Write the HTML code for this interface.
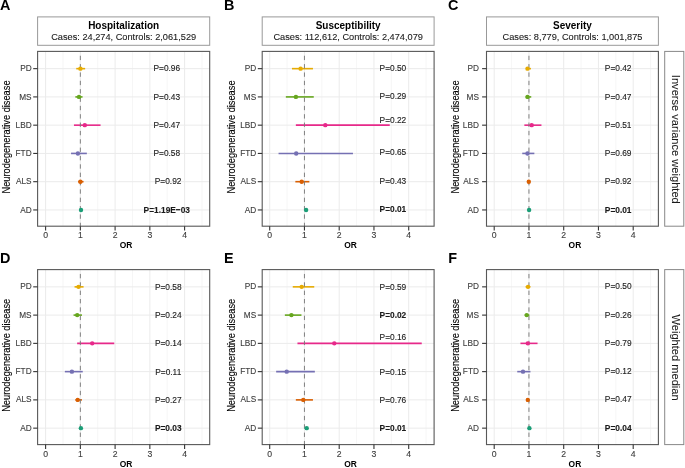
<!DOCTYPE html>
<html><head><meta charset="utf-8"><style>
html,body{margin:0;padding:0;background:#fff;}
svg{display:block;will-change:transform;font-family:"Liberation Sans", sans-serif;}
</style></head><body>
<svg width="685" height="468" viewBox="0 0 685 468">
<rect width="685" height="468" fill="#fff"/>
<line x1="45.60" y1="51.4" x2="45.60" y2="226.2" stroke="#ebebeb" stroke-width="1"/>
<line x1="62.98" y1="51.4" x2="62.98" y2="226.2" stroke="#f2f2f2" stroke-width="0.7"/>
<line x1="80.35" y1="51.4" x2="80.35" y2="226.2" stroke="#ebebeb" stroke-width="1"/>
<line x1="97.72" y1="51.4" x2="97.72" y2="226.2" stroke="#f2f2f2" stroke-width="0.7"/>
<line x1="115.10" y1="51.4" x2="115.10" y2="226.2" stroke="#ebebeb" stroke-width="1"/>
<line x1="132.47" y1="51.4" x2="132.47" y2="226.2" stroke="#f2f2f2" stroke-width="0.7"/>
<line x1="149.85" y1="51.4" x2="149.85" y2="226.2" stroke="#ebebeb" stroke-width="1"/>
<line x1="167.22" y1="51.4" x2="167.22" y2="226.2" stroke="#f2f2f2" stroke-width="0.7"/>
<line x1="184.60" y1="51.4" x2="184.60" y2="226.2" stroke="#ebebeb" stroke-width="1"/>
<line x1="201.97" y1="51.4" x2="201.97" y2="226.2" stroke="#f2f2f2" stroke-width="0.7"/>
<line x1="37.6" y1="68.65" x2="209.7" y2="68.65" stroke="#ebebeb" stroke-width="1"/>
<line x1="37.6" y1="96.91" x2="209.7" y2="96.91" stroke="#ebebeb" stroke-width="1"/>
<line x1="37.6" y1="125.17" x2="209.7" y2="125.17" stroke="#ebebeb" stroke-width="1"/>
<line x1="37.6" y1="153.43" x2="209.7" y2="153.43" stroke="#ebebeb" stroke-width="1"/>
<line x1="37.6" y1="181.69" x2="209.7" y2="181.69" stroke="#ebebeb" stroke-width="1"/>
<line x1="37.6" y1="209.95" x2="209.7" y2="209.95" stroke="#ebebeb" stroke-width="1"/>
<line x1="76.25" y1="68.65" x2="85.15" y2="68.65" stroke="#E6AB02" stroke-width="1.6"/>
<line x1="75.35" y1="96.91" x2="82.55" y2="96.91" stroke="#66A61E" stroke-width="1.6"/>
<line x1="73.95" y1="125.17" x2="100.55" y2="125.17" stroke="#E7298A" stroke-width="1.6"/>
<line x1="71.05" y1="153.43" x2="86.85" y2="153.43" stroke="#7570B3" stroke-width="1.6"/>
<line x1="78.15" y1="181.69" x2="83.55" y2="181.69" stroke="#D95F02" stroke-width="1.6"/>
<line x1="80.35" y1="51.4" x2="80.35" y2="226.2" stroke="#7a7a7a" stroke-width="0.95" stroke-dasharray="4.35 4.0" stroke-dashoffset="-4.35"/>
<circle cx="80.40" cy="68.65" r="2.2" fill="#E6AB02"/>
<circle cx="79.00" cy="96.91" r="2.2" fill="#66A61E"/>
<circle cx="84.80" cy="125.17" r="2.2" fill="#E7298A"/>
<circle cx="77.90" cy="153.43" r="2.2" fill="#7570B3"/>
<circle cx="80.40" cy="181.69" r="2.2" fill="#D95F02"/>
<circle cx="81.00" cy="209.95" r="2.2" fill="#1B9E77"/>
<text transform="translate(166.80,71.25) scale(0.87,1)" font-size="9.6" stroke="#1a1a1a" stroke-width="0.12" text-anchor="middle" fill="#1a1a1a">P=0.96</text>
<text transform="translate(166.80,99.51) scale(0.87,1)" font-size="9.6" stroke="#1a1a1a" stroke-width="0.12" text-anchor="middle" fill="#1a1a1a">P=0.43</text>
<text transform="translate(166.80,127.77) scale(0.87,1)" font-size="9.6" stroke="#1a1a1a" stroke-width="0.12" text-anchor="middle" fill="#1a1a1a">P=0.47</text>
<text transform="translate(166.80,156.03) scale(0.87,1)" font-size="9.6" stroke="#1a1a1a" stroke-width="0.12" text-anchor="middle" fill="#1a1a1a">P=0.58</text>
<text transform="translate(168.10,184.29) scale(0.87,1)" font-size="9.6" stroke="#1a1a1a" stroke-width="0.12" text-anchor="middle" fill="#1a1a1a">P=0.92</text>
<text transform="translate(166.80,212.55) scale(0.87,1)" font-size="9.6" font-weight="bold" stroke="#1a1a1a" stroke-width="0.12" text-anchor="middle" fill="#1a1a1a">P=1.19E−03</text>
<rect x="37.6" y="51.4" width="172.10" height="174.80" fill="none" stroke="#585858" stroke-width="1.1"/>
<line x1="33.20" y1="68.65" x2="37.6" y2="68.65" stroke="#333" stroke-width="1.1"/>
<text transform="translate(31.60,71.25) scale(0.95,1)" font-size="8.7" stroke="#3d3d3d" stroke-width="0.12" text-anchor="end" fill="#3d3d3d">PD</text>
<line x1="33.20" y1="96.91" x2="37.6" y2="96.91" stroke="#333" stroke-width="1.1"/>
<text transform="translate(31.60,99.51) scale(0.95,1)" font-size="8.7" stroke="#3d3d3d" stroke-width="0.12" text-anchor="end" fill="#3d3d3d">MS</text>
<line x1="33.20" y1="125.17" x2="37.6" y2="125.17" stroke="#333" stroke-width="1.1"/>
<text transform="translate(31.60,127.77) scale(0.95,1)" font-size="8.7" stroke="#3d3d3d" stroke-width="0.12" text-anchor="end" fill="#3d3d3d">LBD</text>
<line x1="33.20" y1="153.43" x2="37.6" y2="153.43" stroke="#333" stroke-width="1.1"/>
<text transform="translate(31.60,156.03) scale(0.95,1)" font-size="8.7" stroke="#3d3d3d" stroke-width="0.12" text-anchor="end" fill="#3d3d3d">FTD</text>
<line x1="33.20" y1="181.69" x2="37.6" y2="181.69" stroke="#333" stroke-width="1.1"/>
<text transform="translate(31.60,184.29) scale(0.95,1)" font-size="8.7" stroke="#3d3d3d" stroke-width="0.12" text-anchor="end" fill="#3d3d3d">ALS</text>
<line x1="33.20" y1="209.95" x2="37.6" y2="209.95" stroke="#333" stroke-width="1.1"/>
<text transform="translate(31.60,212.55) scale(0.95,1)" font-size="8.7" stroke="#3d3d3d" stroke-width="0.12" text-anchor="end" fill="#3d3d3d">AD</text>
<line x1="45.60" y1="226.2" x2="45.60" y2="230.60" stroke="#333" stroke-width="1.1"/>
<text transform="translate(45.60,238.10)" font-size="8.7" stroke="#3d3d3d" stroke-width="0.12" text-anchor="middle" fill="#3d3d3d">0</text>
<line x1="80.35" y1="226.2" x2="80.35" y2="230.60" stroke="#333" stroke-width="1.1"/>
<text transform="translate(80.35,238.10)" font-size="8.7" stroke="#3d3d3d" stroke-width="0.12" text-anchor="middle" fill="#3d3d3d">1</text>
<line x1="115.10" y1="226.2" x2="115.10" y2="230.60" stroke="#333" stroke-width="1.1"/>
<text transform="translate(115.10,238.10)" font-size="8.7" stroke="#3d3d3d" stroke-width="0.12" text-anchor="middle" fill="#3d3d3d">2</text>
<line x1="149.85" y1="226.2" x2="149.85" y2="230.60" stroke="#333" stroke-width="1.1"/>
<text transform="translate(149.85,238.10)" font-size="8.7" stroke="#3d3d3d" stroke-width="0.12" text-anchor="middle" fill="#3d3d3d">3</text>
<line x1="184.60" y1="226.2" x2="184.60" y2="230.60" stroke="#333" stroke-width="1.1"/>
<text transform="translate(184.60,238.10)" font-size="8.7" stroke="#3d3d3d" stroke-width="0.12" text-anchor="middle" fill="#3d3d3d">4</text>
<text transform="translate(126.10,248.10) scale(0.97,1)" font-size="8.7" font-weight="bold" text-anchor="middle" fill="#000">OR</text>
<text transform="translate(10.00,137.00) rotate(-90) scale(0.925,1)" font-size="10.0" stroke="#000" stroke-width="0.12" text-anchor="middle" fill="#000">Neurodegenerative disease</text>
<text transform="translate(0.00,10.35)" font-size="14.4" font-weight="bold" text-anchor="start" fill="#000">A</text>
<line x1="269.70" y1="51.4" x2="269.70" y2="226.2" stroke="#ebebeb" stroke-width="1"/>
<line x1="287.07" y1="51.4" x2="287.07" y2="226.2" stroke="#f2f2f2" stroke-width="0.7"/>
<line x1="304.45" y1="51.4" x2="304.45" y2="226.2" stroke="#ebebeb" stroke-width="1"/>
<line x1="321.82" y1="51.4" x2="321.82" y2="226.2" stroke="#f2f2f2" stroke-width="0.7"/>
<line x1="339.20" y1="51.4" x2="339.20" y2="226.2" stroke="#ebebeb" stroke-width="1"/>
<line x1="356.57" y1="51.4" x2="356.57" y2="226.2" stroke="#f2f2f2" stroke-width="0.7"/>
<line x1="373.95" y1="51.4" x2="373.95" y2="226.2" stroke="#ebebeb" stroke-width="1"/>
<line x1="391.32" y1="51.4" x2="391.32" y2="226.2" stroke="#f2f2f2" stroke-width="0.7"/>
<line x1="408.70" y1="51.4" x2="408.70" y2="226.2" stroke="#ebebeb" stroke-width="1"/>
<line x1="426.07" y1="51.4" x2="426.07" y2="226.2" stroke="#f2f2f2" stroke-width="0.7"/>
<line x1="262.2" y1="68.65" x2="434.1" y2="68.65" stroke="#ebebeb" stroke-width="1"/>
<line x1="262.2" y1="96.91" x2="434.1" y2="96.91" stroke="#ebebeb" stroke-width="1"/>
<line x1="262.2" y1="125.17" x2="434.1" y2="125.17" stroke="#ebebeb" stroke-width="1"/>
<line x1="262.2" y1="153.43" x2="434.1" y2="153.43" stroke="#ebebeb" stroke-width="1"/>
<line x1="262.2" y1="181.69" x2="434.1" y2="181.69" stroke="#ebebeb" stroke-width="1"/>
<line x1="262.2" y1="209.95" x2="434.1" y2="209.95" stroke="#ebebeb" stroke-width="1"/>
<line x1="291.95" y1="68.65" x2="312.95" y2="68.65" stroke="#E6AB02" stroke-width="1.6"/>
<line x1="285.85" y1="96.91" x2="313.75" y2="96.91" stroke="#66A61E" stroke-width="1.6"/>
<line x1="295.85" y1="125.17" x2="389.75" y2="125.17" stroke="#E7298A" stroke-width="1.6"/>
<line x1="278.55" y1="153.43" x2="352.95" y2="153.43" stroke="#7570B3" stroke-width="1.6"/>
<line x1="295.35" y1="181.69" x2="309.35" y2="181.69" stroke="#D95F02" stroke-width="1.6"/>
<line x1="304.45" y1="51.4" x2="304.45" y2="226.2" stroke="#7a7a7a" stroke-width="0.95" stroke-dasharray="4.35 4.0" stroke-dashoffset="-4.35"/>
<circle cx="300.60" cy="68.65" r="2.2" fill="#E6AB02"/>
<circle cx="295.90" cy="96.91" r="2.2" fill="#66A61E"/>
<circle cx="325.30" cy="125.17" r="2.2" fill="#E7298A"/>
<circle cx="296.20" cy="153.43" r="2.2" fill="#7570B3"/>
<circle cx="301.70" cy="181.69" r="2.2" fill="#D95F02"/>
<circle cx="306.10" cy="209.95" r="2.2" fill="#1B9E77"/>
<text transform="translate(392.90,70.55) scale(0.87,1)" font-size="9.6" stroke="#1a1a1a" stroke-width="0.12" text-anchor="middle" fill="#1a1a1a">P=0.50</text>
<text transform="translate(392.90,98.81) scale(0.87,1)" font-size="9.6" stroke="#1a1a1a" stroke-width="0.12" text-anchor="middle" fill="#1a1a1a">P=0.29</text>
<text transform="translate(392.90,123.12) scale(0.87,1)" font-size="9.6" stroke="#1a1a1a" stroke-width="0.12" text-anchor="middle" fill="#1a1a1a">P=0.22</text>
<text transform="translate(392.90,155.33) scale(0.87,1)" font-size="9.6" stroke="#1a1a1a" stroke-width="0.12" text-anchor="middle" fill="#1a1a1a">P=0.65</text>
<text transform="translate(392.90,183.59) scale(0.87,1)" font-size="9.6" stroke="#1a1a1a" stroke-width="0.12" text-anchor="middle" fill="#1a1a1a">P=0.43</text>
<text transform="translate(392.90,211.85) scale(0.87,1)" font-size="9.6" font-weight="bold" stroke="#1a1a1a" stroke-width="0.12" text-anchor="middle" fill="#1a1a1a">P=0.01</text>
<rect x="262.2" y="51.4" width="171.90" height="174.80" fill="none" stroke="#585858" stroke-width="1.1"/>
<line x1="257.80" y1="68.65" x2="262.2" y2="68.65" stroke="#333" stroke-width="1.1"/>
<text transform="translate(256.20,71.25) scale(0.95,1)" font-size="8.7" stroke="#3d3d3d" stroke-width="0.12" text-anchor="end" fill="#3d3d3d">PD</text>
<line x1="257.80" y1="96.91" x2="262.2" y2="96.91" stroke="#333" stroke-width="1.1"/>
<text transform="translate(256.20,99.51) scale(0.95,1)" font-size="8.7" stroke="#3d3d3d" stroke-width="0.12" text-anchor="end" fill="#3d3d3d">MS</text>
<line x1="257.80" y1="125.17" x2="262.2" y2="125.17" stroke="#333" stroke-width="1.1"/>
<text transform="translate(256.20,127.77) scale(0.95,1)" font-size="8.7" stroke="#3d3d3d" stroke-width="0.12" text-anchor="end" fill="#3d3d3d">LBD</text>
<line x1="257.80" y1="153.43" x2="262.2" y2="153.43" stroke="#333" stroke-width="1.1"/>
<text transform="translate(256.20,156.03) scale(0.95,1)" font-size="8.7" stroke="#3d3d3d" stroke-width="0.12" text-anchor="end" fill="#3d3d3d">FTD</text>
<line x1="257.80" y1="181.69" x2="262.2" y2="181.69" stroke="#333" stroke-width="1.1"/>
<text transform="translate(256.20,184.29) scale(0.95,1)" font-size="8.7" stroke="#3d3d3d" stroke-width="0.12" text-anchor="end" fill="#3d3d3d">ALS</text>
<line x1="257.80" y1="209.95" x2="262.2" y2="209.95" stroke="#333" stroke-width="1.1"/>
<text transform="translate(256.20,212.55) scale(0.95,1)" font-size="8.7" stroke="#3d3d3d" stroke-width="0.12" text-anchor="end" fill="#3d3d3d">AD</text>
<line x1="269.70" y1="226.2" x2="269.70" y2="230.60" stroke="#333" stroke-width="1.1"/>
<text transform="translate(269.70,238.10)" font-size="8.7" stroke="#3d3d3d" stroke-width="0.12" text-anchor="middle" fill="#3d3d3d">0</text>
<line x1="304.45" y1="226.2" x2="304.45" y2="230.60" stroke="#333" stroke-width="1.1"/>
<text transform="translate(304.45,238.10)" font-size="8.7" stroke="#3d3d3d" stroke-width="0.12" text-anchor="middle" fill="#3d3d3d">1</text>
<line x1="339.20" y1="226.2" x2="339.20" y2="230.60" stroke="#333" stroke-width="1.1"/>
<text transform="translate(339.20,238.10)" font-size="8.7" stroke="#3d3d3d" stroke-width="0.12" text-anchor="middle" fill="#3d3d3d">2</text>
<line x1="373.95" y1="226.2" x2="373.95" y2="230.60" stroke="#333" stroke-width="1.1"/>
<text transform="translate(373.95,238.10)" font-size="8.7" stroke="#3d3d3d" stroke-width="0.12" text-anchor="middle" fill="#3d3d3d">3</text>
<line x1="408.70" y1="226.2" x2="408.70" y2="230.60" stroke="#333" stroke-width="1.1"/>
<text transform="translate(408.70,238.10)" font-size="8.7" stroke="#3d3d3d" stroke-width="0.12" text-anchor="middle" fill="#3d3d3d">4</text>
<text transform="translate(350.60,248.10) scale(0.97,1)" font-size="8.7" font-weight="bold" text-anchor="middle" fill="#000">OR</text>
<text transform="translate(234.60,137.00) rotate(-90) scale(0.925,1)" font-size="10.0" stroke="#000" stroke-width="0.12" text-anchor="middle" fill="#000">Neurodegenerative disease</text>
<text transform="translate(224.00,10.35)" font-size="14.4" font-weight="bold" text-anchor="start" fill="#000">B</text>
<line x1="494.20" y1="51.4" x2="494.20" y2="226.2" stroke="#ebebeb" stroke-width="1"/>
<line x1="511.57" y1="51.4" x2="511.57" y2="226.2" stroke="#f2f2f2" stroke-width="0.7"/>
<line x1="528.95" y1="51.4" x2="528.95" y2="226.2" stroke="#ebebeb" stroke-width="1"/>
<line x1="546.33" y1="51.4" x2="546.33" y2="226.2" stroke="#f2f2f2" stroke-width="0.7"/>
<line x1="563.70" y1="51.4" x2="563.70" y2="226.2" stroke="#ebebeb" stroke-width="1"/>
<line x1="581.08" y1="51.4" x2="581.08" y2="226.2" stroke="#f2f2f2" stroke-width="0.7"/>
<line x1="598.45" y1="51.4" x2="598.45" y2="226.2" stroke="#ebebeb" stroke-width="1"/>
<line x1="615.83" y1="51.4" x2="615.83" y2="226.2" stroke="#f2f2f2" stroke-width="0.7"/>
<line x1="633.20" y1="51.4" x2="633.20" y2="226.2" stroke="#ebebeb" stroke-width="1"/>
<line x1="650.58" y1="51.4" x2="650.58" y2="226.2" stroke="#f2f2f2" stroke-width="0.7"/>
<line x1="486.5" y1="68.65" x2="658.4" y2="68.65" stroke="#ebebeb" stroke-width="1"/>
<line x1="486.5" y1="96.91" x2="658.4" y2="96.91" stroke="#ebebeb" stroke-width="1"/>
<line x1="486.5" y1="125.17" x2="658.4" y2="125.17" stroke="#ebebeb" stroke-width="1"/>
<line x1="486.5" y1="153.43" x2="658.4" y2="153.43" stroke="#ebebeb" stroke-width="1"/>
<line x1="486.5" y1="181.69" x2="658.4" y2="181.69" stroke="#ebebeb" stroke-width="1"/>
<line x1="486.5" y1="209.95" x2="658.4" y2="209.95" stroke="#ebebeb" stroke-width="1"/>
<line x1="526.15" y1="68.65" x2="530.95" y2="68.65" stroke="#E6AB02" stroke-width="1.6"/>
<line x1="525.65" y1="96.91" x2="531.25" y2="96.91" stroke="#66A61E" stroke-width="1.6"/>
<line x1="524.35" y1="125.17" x2="541.45" y2="125.17" stroke="#E7298A" stroke-width="1.6"/>
<line x1="522.25" y1="153.43" x2="534.35" y2="153.43" stroke="#7570B3" stroke-width="1.6"/>
<line x1="528.95" y1="51.4" x2="528.95" y2="226.2" stroke="#7a7a7a" stroke-width="0.95" stroke-dasharray="4.35 4.0" stroke-dashoffset="-4.35"/>
<circle cx="527.50" cy="68.65" r="2.2" fill="#E6AB02"/>
<circle cx="527.50" cy="96.91" r="2.2" fill="#66A61E"/>
<circle cx="531.70" cy="125.17" r="2.2" fill="#E7298A"/>
<circle cx="527.50" cy="153.43" r="2.2" fill="#7570B3"/>
<circle cx="528.80" cy="181.69" r="2.2" fill="#D95F02"/>
<circle cx="529.10" cy="209.95" r="2.2" fill="#1B9E77"/>
<text transform="translate(618.15,71.25) scale(0.87,1)" font-size="9.6" stroke="#1a1a1a" stroke-width="0.12" text-anchor="middle" fill="#1a1a1a">P=0.42</text>
<text transform="translate(618.15,99.51) scale(0.87,1)" font-size="9.6" stroke="#1a1a1a" stroke-width="0.12" text-anchor="middle" fill="#1a1a1a">P=0.47</text>
<text transform="translate(618.15,127.77) scale(0.87,1)" font-size="9.6" stroke="#1a1a1a" stroke-width="0.12" text-anchor="middle" fill="#1a1a1a">P=0.51</text>
<text transform="translate(618.15,156.03) scale(0.87,1)" font-size="9.6" stroke="#1a1a1a" stroke-width="0.12" text-anchor="middle" fill="#1a1a1a">P=0.69</text>
<text transform="translate(618.15,184.29) scale(0.87,1)" font-size="9.6" stroke="#1a1a1a" stroke-width="0.12" text-anchor="middle" fill="#1a1a1a">P=0.92</text>
<text transform="translate(618.15,212.55) scale(0.87,1)" font-size="9.6" font-weight="bold" stroke="#1a1a1a" stroke-width="0.12" text-anchor="middle" fill="#1a1a1a">P=0.01</text>
<rect x="486.5" y="51.4" width="171.90" height="174.80" fill="none" stroke="#585858" stroke-width="1.1"/>
<line x1="482.10" y1="68.65" x2="486.5" y2="68.65" stroke="#333" stroke-width="1.1"/>
<text transform="translate(478.90,71.25) scale(0.95,1)" font-size="8.7" stroke="#3d3d3d" stroke-width="0.12" text-anchor="end" fill="#3d3d3d">PD</text>
<line x1="482.10" y1="96.91" x2="486.5" y2="96.91" stroke="#333" stroke-width="1.1"/>
<text transform="translate(478.90,99.51) scale(0.95,1)" font-size="8.7" stroke="#3d3d3d" stroke-width="0.12" text-anchor="end" fill="#3d3d3d">MS</text>
<line x1="482.10" y1="125.17" x2="486.5" y2="125.17" stroke="#333" stroke-width="1.1"/>
<text transform="translate(478.90,127.77) scale(0.95,1)" font-size="8.7" stroke="#3d3d3d" stroke-width="0.12" text-anchor="end" fill="#3d3d3d">LBD</text>
<line x1="482.10" y1="153.43" x2="486.5" y2="153.43" stroke="#333" stroke-width="1.1"/>
<text transform="translate(478.90,156.03) scale(0.95,1)" font-size="8.7" stroke="#3d3d3d" stroke-width="0.12" text-anchor="end" fill="#3d3d3d">FTD</text>
<line x1="482.10" y1="181.69" x2="486.5" y2="181.69" stroke="#333" stroke-width="1.1"/>
<text transform="translate(478.90,184.29) scale(0.95,1)" font-size="8.7" stroke="#3d3d3d" stroke-width="0.12" text-anchor="end" fill="#3d3d3d">ALS</text>
<line x1="482.10" y1="209.95" x2="486.5" y2="209.95" stroke="#333" stroke-width="1.1"/>
<text transform="translate(478.90,212.55) scale(0.95,1)" font-size="8.7" stroke="#3d3d3d" stroke-width="0.12" text-anchor="end" fill="#3d3d3d">AD</text>
<line x1="494.20" y1="226.2" x2="494.20" y2="230.60" stroke="#333" stroke-width="1.1"/>
<text transform="translate(494.20,238.10)" font-size="8.7" stroke="#3d3d3d" stroke-width="0.12" text-anchor="middle" fill="#3d3d3d">0</text>
<line x1="528.95" y1="226.2" x2="528.95" y2="230.60" stroke="#333" stroke-width="1.1"/>
<text transform="translate(528.95,238.10)" font-size="8.7" stroke="#3d3d3d" stroke-width="0.12" text-anchor="middle" fill="#3d3d3d">1</text>
<line x1="563.70" y1="226.2" x2="563.70" y2="230.60" stroke="#333" stroke-width="1.1"/>
<text transform="translate(563.70,238.10)" font-size="8.7" stroke="#3d3d3d" stroke-width="0.12" text-anchor="middle" fill="#3d3d3d">2</text>
<line x1="598.45" y1="226.2" x2="598.45" y2="230.60" stroke="#333" stroke-width="1.1"/>
<text transform="translate(598.45,238.10)" font-size="8.7" stroke="#3d3d3d" stroke-width="0.12" text-anchor="middle" fill="#3d3d3d">3</text>
<line x1="633.20" y1="226.2" x2="633.20" y2="230.60" stroke="#333" stroke-width="1.1"/>
<text transform="translate(633.20,238.10)" font-size="8.7" stroke="#3d3d3d" stroke-width="0.12" text-anchor="middle" fill="#3d3d3d">4</text>
<text transform="translate(574.90,248.10) scale(0.97,1)" font-size="8.7" font-weight="bold" text-anchor="middle" fill="#000">OR</text>
<text transform="translate(458.90,137.00) rotate(-90) scale(0.925,1)" font-size="10.0" stroke="#000" stroke-width="0.12" text-anchor="middle" fill="#000">Neurodegenerative disease</text>
<text transform="translate(448.00,10.35)" font-size="14.4" font-weight="bold" text-anchor="start" fill="#000">C</text>
<rect x="664.7" y="51.4" width="19.10" height="174.80" fill="#fff" stroke="#888" stroke-width="1"/>
<text transform="translate(671.90,139.30) rotate(90)" font-size="11.1" stroke="#1a1a1a" stroke-width="0.08" text-anchor="middle" fill="#1a1a1a">Inverse variance weighted</text>
<line x1="45.60" y1="269.6" x2="45.60" y2="444.6" stroke="#ebebeb" stroke-width="1"/>
<line x1="62.98" y1="269.6" x2="62.98" y2="444.6" stroke="#f2f2f2" stroke-width="0.7"/>
<line x1="80.35" y1="269.6" x2="80.35" y2="444.6" stroke="#ebebeb" stroke-width="1"/>
<line x1="97.72" y1="269.6" x2="97.72" y2="444.6" stroke="#f2f2f2" stroke-width="0.7"/>
<line x1="115.10" y1="269.6" x2="115.10" y2="444.6" stroke="#ebebeb" stroke-width="1"/>
<line x1="132.47" y1="269.6" x2="132.47" y2="444.6" stroke="#f2f2f2" stroke-width="0.7"/>
<line x1="149.85" y1="269.6" x2="149.85" y2="444.6" stroke="#ebebeb" stroke-width="1"/>
<line x1="167.22" y1="269.6" x2="167.22" y2="444.6" stroke="#f2f2f2" stroke-width="0.7"/>
<line x1="184.60" y1="269.6" x2="184.60" y2="444.6" stroke="#ebebeb" stroke-width="1"/>
<line x1="201.97" y1="269.6" x2="201.97" y2="444.6" stroke="#f2f2f2" stroke-width="0.7"/>
<line x1="37.6" y1="286.85" x2="209.7" y2="286.85" stroke="#ebebeb" stroke-width="1"/>
<line x1="37.6" y1="315.11" x2="209.7" y2="315.11" stroke="#ebebeb" stroke-width="1"/>
<line x1="37.6" y1="343.37" x2="209.7" y2="343.37" stroke="#ebebeb" stroke-width="1"/>
<line x1="37.6" y1="371.63" x2="209.7" y2="371.63" stroke="#ebebeb" stroke-width="1"/>
<line x1="37.6" y1="399.89" x2="209.7" y2="399.89" stroke="#ebebeb" stroke-width="1"/>
<line x1="37.6" y1="428.15" x2="209.7" y2="428.15" stroke="#ebebeb" stroke-width="1"/>
<line x1="74.55" y1="286.85" x2="83.55" y2="286.85" stroke="#E6AB02" stroke-width="1.6"/>
<line x1="73.55" y1="315.11" x2="81.95" y2="315.11" stroke="#66A61E" stroke-width="1.6"/>
<line x1="77.15" y1="343.37" x2="114.25" y2="343.37" stroke="#E7298A" stroke-width="1.6"/>
<line x1="64.85" y1="371.63" x2="82.75" y2="371.63" stroke="#7570B3" stroke-width="1.6"/>
<line x1="75.35" y1="399.89" x2="81.95" y2="399.89" stroke="#D95F02" stroke-width="1.6"/>
<line x1="80.35" y1="269.6" x2="80.35" y2="444.6" stroke="#7a7a7a" stroke-width="0.95" stroke-dasharray="4.35 4.0" stroke-dashoffset="-4.35"/>
<circle cx="78.50" cy="286.85" r="2.2" fill="#E6AB02"/>
<circle cx="77.20" cy="315.11" r="2.2" fill="#66A61E"/>
<circle cx="92.20" cy="343.37" r="2.2" fill="#E7298A"/>
<circle cx="71.90" cy="371.63" r="2.2" fill="#7570B3"/>
<circle cx="77.70" cy="399.89" r="2.2" fill="#D95F02"/>
<circle cx="80.90" cy="428.15" r="2.2" fill="#1B9E77"/>
<text transform="translate(168.25,289.75) scale(0.87,1)" font-size="9.6" stroke="#1a1a1a" stroke-width="0.12" text-anchor="middle" fill="#1a1a1a">P=0.58</text>
<text transform="translate(168.25,318.01) scale(0.87,1)" font-size="9.6" stroke="#1a1a1a" stroke-width="0.12" text-anchor="middle" fill="#1a1a1a">P=0.24</text>
<text transform="translate(168.25,346.27) scale(0.87,1)" font-size="9.6" stroke="#1a1a1a" stroke-width="0.12" text-anchor="middle" fill="#1a1a1a">P=0.14</text>
<text transform="translate(168.25,374.53) scale(0.87,1)" font-size="9.6" stroke="#1a1a1a" stroke-width="0.12" text-anchor="middle" fill="#1a1a1a">P=0.11</text>
<text transform="translate(168.25,402.79) scale(0.87,1)" font-size="9.6" stroke="#1a1a1a" stroke-width="0.12" text-anchor="middle" fill="#1a1a1a">P=0.27</text>
<text transform="translate(168.25,431.05) scale(0.87,1)" font-size="9.6" font-weight="bold" stroke="#1a1a1a" stroke-width="0.12" text-anchor="middle" fill="#1a1a1a">P=0.03</text>
<rect x="37.6" y="269.6" width="172.10" height="175.00" fill="none" stroke="#585858" stroke-width="1.1"/>
<line x1="33.20" y1="286.85" x2="37.6" y2="286.85" stroke="#333" stroke-width="1.1"/>
<text transform="translate(31.60,289.45) scale(0.95,1)" font-size="8.7" stroke="#3d3d3d" stroke-width="0.12" text-anchor="end" fill="#3d3d3d">PD</text>
<line x1="33.20" y1="315.11" x2="37.6" y2="315.11" stroke="#333" stroke-width="1.1"/>
<text transform="translate(31.60,317.71) scale(0.95,1)" font-size="8.7" stroke="#3d3d3d" stroke-width="0.12" text-anchor="end" fill="#3d3d3d">MS</text>
<line x1="33.20" y1="343.37" x2="37.6" y2="343.37" stroke="#333" stroke-width="1.1"/>
<text transform="translate(31.60,345.97) scale(0.95,1)" font-size="8.7" stroke="#3d3d3d" stroke-width="0.12" text-anchor="end" fill="#3d3d3d">LBD</text>
<line x1="33.20" y1="371.63" x2="37.6" y2="371.63" stroke="#333" stroke-width="1.1"/>
<text transform="translate(31.60,374.23) scale(0.95,1)" font-size="8.7" stroke="#3d3d3d" stroke-width="0.12" text-anchor="end" fill="#3d3d3d">FTD</text>
<line x1="33.20" y1="399.89" x2="37.6" y2="399.89" stroke="#333" stroke-width="1.1"/>
<text transform="translate(31.60,402.49) scale(0.95,1)" font-size="8.7" stroke="#3d3d3d" stroke-width="0.12" text-anchor="end" fill="#3d3d3d">ALS</text>
<line x1="33.20" y1="428.15" x2="37.6" y2="428.15" stroke="#333" stroke-width="1.1"/>
<text transform="translate(31.60,430.75) scale(0.95,1)" font-size="8.7" stroke="#3d3d3d" stroke-width="0.12" text-anchor="end" fill="#3d3d3d">AD</text>
<line x1="45.60" y1="444.6" x2="45.60" y2="449.00" stroke="#333" stroke-width="1.1"/>
<text transform="translate(45.60,456.50)" font-size="8.7" stroke="#3d3d3d" stroke-width="0.12" text-anchor="middle" fill="#3d3d3d">0</text>
<line x1="80.35" y1="444.6" x2="80.35" y2="449.00" stroke="#333" stroke-width="1.1"/>
<text transform="translate(80.35,456.50)" font-size="8.7" stroke="#3d3d3d" stroke-width="0.12" text-anchor="middle" fill="#3d3d3d">1</text>
<line x1="115.10" y1="444.6" x2="115.10" y2="449.00" stroke="#333" stroke-width="1.1"/>
<text transform="translate(115.10,456.50)" font-size="8.7" stroke="#3d3d3d" stroke-width="0.12" text-anchor="middle" fill="#3d3d3d">2</text>
<line x1="149.85" y1="444.6" x2="149.85" y2="449.00" stroke="#333" stroke-width="1.1"/>
<text transform="translate(149.85,456.50)" font-size="8.7" stroke="#3d3d3d" stroke-width="0.12" text-anchor="middle" fill="#3d3d3d">3</text>
<line x1="184.60" y1="444.6" x2="184.60" y2="449.00" stroke="#333" stroke-width="1.1"/>
<text transform="translate(184.60,456.50)" font-size="8.7" stroke="#3d3d3d" stroke-width="0.12" text-anchor="middle" fill="#3d3d3d">4</text>
<text transform="translate(126.10,466.50) scale(0.97,1)" font-size="8.7" font-weight="bold" text-anchor="middle" fill="#000">OR</text>
<text transform="translate(10.00,355.30) rotate(-90) scale(0.925,1)" font-size="10.0" stroke="#000" stroke-width="0.12" text-anchor="middle" fill="#000">Neurodegenerative disease</text>
<text transform="translate(0.00,263.00)" font-size="14.4" font-weight="bold" text-anchor="start" fill="#000">D</text>
<line x1="269.70" y1="269.6" x2="269.70" y2="444.6" stroke="#ebebeb" stroke-width="1"/>
<line x1="287.07" y1="269.6" x2="287.07" y2="444.6" stroke="#f2f2f2" stroke-width="0.7"/>
<line x1="304.45" y1="269.6" x2="304.45" y2="444.6" stroke="#ebebeb" stroke-width="1"/>
<line x1="321.82" y1="269.6" x2="321.82" y2="444.6" stroke="#f2f2f2" stroke-width="0.7"/>
<line x1="339.20" y1="269.6" x2="339.20" y2="444.6" stroke="#ebebeb" stroke-width="1"/>
<line x1="356.57" y1="269.6" x2="356.57" y2="444.6" stroke="#f2f2f2" stroke-width="0.7"/>
<line x1="373.95" y1="269.6" x2="373.95" y2="444.6" stroke="#ebebeb" stroke-width="1"/>
<line x1="391.32" y1="269.6" x2="391.32" y2="444.6" stroke="#f2f2f2" stroke-width="0.7"/>
<line x1="408.70" y1="269.6" x2="408.70" y2="444.6" stroke="#ebebeb" stroke-width="1"/>
<line x1="426.07" y1="269.6" x2="426.07" y2="444.6" stroke="#f2f2f2" stroke-width="0.7"/>
<line x1="262.2" y1="286.85" x2="434.1" y2="286.85" stroke="#ebebeb" stroke-width="1"/>
<line x1="262.2" y1="315.11" x2="434.1" y2="315.11" stroke="#ebebeb" stroke-width="1"/>
<line x1="262.2" y1="343.37" x2="434.1" y2="343.37" stroke="#ebebeb" stroke-width="1"/>
<line x1="262.2" y1="371.63" x2="434.1" y2="371.63" stroke="#ebebeb" stroke-width="1"/>
<line x1="262.2" y1="399.89" x2="434.1" y2="399.89" stroke="#ebebeb" stroke-width="1"/>
<line x1="262.2" y1="428.15" x2="434.1" y2="428.15" stroke="#ebebeb" stroke-width="1"/>
<line x1="292.75" y1="286.85" x2="314.25" y2="286.85" stroke="#E6AB02" stroke-width="1.6"/>
<line x1="284.85" y1="315.11" x2="301.45" y2="315.11" stroke="#66A61E" stroke-width="1.6"/>
<line x1="297.45" y1="343.37" x2="421.75" y2="343.37" stroke="#E7298A" stroke-width="1.6"/>
<line x1="276.15" y1="371.63" x2="314.85" y2="371.63" stroke="#7570B3" stroke-width="1.6"/>
<line x1="295.85" y1="399.89" x2="312.95" y2="399.89" stroke="#D95F02" stroke-width="1.6"/>
<line x1="304.45" y1="269.6" x2="304.45" y2="444.6" stroke="#7a7a7a" stroke-width="0.95" stroke-dasharray="4.35 4.0" stroke-dashoffset="-4.35"/>
<circle cx="301.70" cy="286.85" r="2.2" fill="#E6AB02"/>
<circle cx="291.40" cy="315.11" r="2.2" fill="#66A61E"/>
<circle cx="334.30" cy="343.37" r="2.2" fill="#E7298A"/>
<circle cx="286.70" cy="371.63" r="2.2" fill="#7570B3"/>
<circle cx="303.30" cy="399.89" r="2.2" fill="#D95F02"/>
<circle cx="306.70" cy="428.15" r="2.2" fill="#1B9E77"/>
<text transform="translate(392.90,290.15) scale(0.87,1)" font-size="9.6" stroke="#1a1a1a" stroke-width="0.12" text-anchor="middle" fill="#1a1a1a">P=0.59</text>
<text transform="translate(392.90,318.41) scale(0.87,1)" font-size="9.6" font-weight="bold" stroke="#1a1a1a" stroke-width="0.12" text-anchor="middle" fill="#1a1a1a">P=0.02</text>
<text transform="translate(392.90,339.87) scale(0.87,1)" font-size="9.6" stroke="#1a1a1a" stroke-width="0.12" text-anchor="middle" fill="#1a1a1a">P=0.16</text>
<text transform="translate(392.90,374.93) scale(0.87,1)" font-size="9.6" stroke="#1a1a1a" stroke-width="0.12" text-anchor="middle" fill="#1a1a1a">P=0.15</text>
<text transform="translate(392.90,403.19) scale(0.87,1)" font-size="9.6" stroke="#1a1a1a" stroke-width="0.12" text-anchor="middle" fill="#1a1a1a">P=0.76</text>
<text transform="translate(392.90,431.45) scale(0.87,1)" font-size="9.6" font-weight="bold" stroke="#1a1a1a" stroke-width="0.12" text-anchor="middle" fill="#1a1a1a">P=0.01</text>
<rect x="262.2" y="269.6" width="171.90" height="175.00" fill="none" stroke="#585858" stroke-width="1.1"/>
<line x1="257.80" y1="286.85" x2="262.2" y2="286.85" stroke="#333" stroke-width="1.1"/>
<text transform="translate(256.20,289.45) scale(0.95,1)" font-size="8.7" stroke="#3d3d3d" stroke-width="0.12" text-anchor="end" fill="#3d3d3d">PD</text>
<line x1="257.80" y1="315.11" x2="262.2" y2="315.11" stroke="#333" stroke-width="1.1"/>
<text transform="translate(256.20,317.71) scale(0.95,1)" font-size="8.7" stroke="#3d3d3d" stroke-width="0.12" text-anchor="end" fill="#3d3d3d">MS</text>
<line x1="257.80" y1="343.37" x2="262.2" y2="343.37" stroke="#333" stroke-width="1.1"/>
<text transform="translate(256.20,345.97) scale(0.95,1)" font-size="8.7" stroke="#3d3d3d" stroke-width="0.12" text-anchor="end" fill="#3d3d3d">LBD</text>
<line x1="257.80" y1="371.63" x2="262.2" y2="371.63" stroke="#333" stroke-width="1.1"/>
<text transform="translate(256.20,374.23) scale(0.95,1)" font-size="8.7" stroke="#3d3d3d" stroke-width="0.12" text-anchor="end" fill="#3d3d3d">FTD</text>
<line x1="257.80" y1="399.89" x2="262.2" y2="399.89" stroke="#333" stroke-width="1.1"/>
<text transform="translate(256.20,402.49) scale(0.95,1)" font-size="8.7" stroke="#3d3d3d" stroke-width="0.12" text-anchor="end" fill="#3d3d3d">ALS</text>
<line x1="257.80" y1="428.15" x2="262.2" y2="428.15" stroke="#333" stroke-width="1.1"/>
<text transform="translate(256.20,430.75) scale(0.95,1)" font-size="8.7" stroke="#3d3d3d" stroke-width="0.12" text-anchor="end" fill="#3d3d3d">AD</text>
<line x1="269.70" y1="444.6" x2="269.70" y2="449.00" stroke="#333" stroke-width="1.1"/>
<text transform="translate(269.70,456.50)" font-size="8.7" stroke="#3d3d3d" stroke-width="0.12" text-anchor="middle" fill="#3d3d3d">0</text>
<line x1="304.45" y1="444.6" x2="304.45" y2="449.00" stroke="#333" stroke-width="1.1"/>
<text transform="translate(304.45,456.50)" font-size="8.7" stroke="#3d3d3d" stroke-width="0.12" text-anchor="middle" fill="#3d3d3d">1</text>
<line x1="339.20" y1="444.6" x2="339.20" y2="449.00" stroke="#333" stroke-width="1.1"/>
<text transform="translate(339.20,456.50)" font-size="8.7" stroke="#3d3d3d" stroke-width="0.12" text-anchor="middle" fill="#3d3d3d">2</text>
<line x1="373.95" y1="444.6" x2="373.95" y2="449.00" stroke="#333" stroke-width="1.1"/>
<text transform="translate(373.95,456.50)" font-size="8.7" stroke="#3d3d3d" stroke-width="0.12" text-anchor="middle" fill="#3d3d3d">3</text>
<line x1="408.70" y1="444.6" x2="408.70" y2="449.00" stroke="#333" stroke-width="1.1"/>
<text transform="translate(408.70,456.50)" font-size="8.7" stroke="#3d3d3d" stroke-width="0.12" text-anchor="middle" fill="#3d3d3d">4</text>
<text transform="translate(350.60,466.50) scale(0.97,1)" font-size="8.7" font-weight="bold" text-anchor="middle" fill="#000">OR</text>
<text transform="translate(234.60,355.30) rotate(-90) scale(0.925,1)" font-size="10.0" stroke="#000" stroke-width="0.12" text-anchor="middle" fill="#000">Neurodegenerative disease</text>
<text transform="translate(224.00,263.00)" font-size="14.4" font-weight="bold" text-anchor="start" fill="#000">E</text>
<line x1="494.20" y1="269.6" x2="494.20" y2="444.6" stroke="#ebebeb" stroke-width="1"/>
<line x1="511.57" y1="269.6" x2="511.57" y2="444.6" stroke="#f2f2f2" stroke-width="0.7"/>
<line x1="528.95" y1="269.6" x2="528.95" y2="444.6" stroke="#ebebeb" stroke-width="1"/>
<line x1="546.33" y1="269.6" x2="546.33" y2="444.6" stroke="#f2f2f2" stroke-width="0.7"/>
<line x1="563.70" y1="269.6" x2="563.70" y2="444.6" stroke="#ebebeb" stroke-width="1"/>
<line x1="581.08" y1="269.6" x2="581.08" y2="444.6" stroke="#f2f2f2" stroke-width="0.7"/>
<line x1="598.45" y1="269.6" x2="598.45" y2="444.6" stroke="#ebebeb" stroke-width="1"/>
<line x1="615.83" y1="269.6" x2="615.83" y2="444.6" stroke="#f2f2f2" stroke-width="0.7"/>
<line x1="633.20" y1="269.6" x2="633.20" y2="444.6" stroke="#ebebeb" stroke-width="1"/>
<line x1="650.58" y1="269.6" x2="650.58" y2="444.6" stroke="#f2f2f2" stroke-width="0.7"/>
<line x1="486.5" y1="286.85" x2="658.4" y2="286.85" stroke="#ebebeb" stroke-width="1"/>
<line x1="486.5" y1="315.11" x2="658.4" y2="315.11" stroke="#ebebeb" stroke-width="1"/>
<line x1="486.5" y1="343.37" x2="658.4" y2="343.37" stroke="#ebebeb" stroke-width="1"/>
<line x1="486.5" y1="371.63" x2="658.4" y2="371.63" stroke="#ebebeb" stroke-width="1"/>
<line x1="486.5" y1="399.89" x2="658.4" y2="399.89" stroke="#ebebeb" stroke-width="1"/>
<line x1="486.5" y1="428.15" x2="658.4" y2="428.15" stroke="#ebebeb" stroke-width="1"/>
<line x1="525.65" y1="286.85" x2="530.45" y2="286.85" stroke="#E6AB02" stroke-width="1.6"/>
<line x1="524.65" y1="315.11" x2="529.35" y2="315.11" stroke="#66A61E" stroke-width="1.6"/>
<line x1="520.45" y1="343.37" x2="537.55" y2="343.37" stroke="#E7298A" stroke-width="1.6"/>
<line x1="517.25" y1="371.63" x2="530.45" y2="371.63" stroke="#7570B3" stroke-width="1.6"/>
<line x1="528.95" y1="269.6" x2="528.95" y2="444.6" stroke="#7a7a7a" stroke-width="0.95" stroke-dasharray="4.35 4.0" stroke-dashoffset="-4.35"/>
<circle cx="528.00" cy="286.85" r="2.2" fill="#E6AB02"/>
<circle cx="526.70" cy="315.11" r="2.2" fill="#66A61E"/>
<circle cx="527.80" cy="343.37" r="2.2" fill="#E7298A"/>
<circle cx="523.00" cy="371.63" r="2.2" fill="#7570B3"/>
<circle cx="527.80" cy="399.89" r="2.2" fill="#D95F02"/>
<circle cx="529.40" cy="428.15" r="2.2" fill="#1B9E77"/>
<text transform="translate(618.20,289.45) scale(0.87,1)" font-size="9.6" stroke="#1a1a1a" stroke-width="0.12" text-anchor="middle" fill="#1a1a1a">P=0.50</text>
<text transform="translate(618.20,317.71) scale(0.87,1)" font-size="9.6" stroke="#1a1a1a" stroke-width="0.12" text-anchor="middle" fill="#1a1a1a">P=0.26</text>
<text transform="translate(618.20,345.97) scale(0.87,1)" font-size="9.6" stroke="#1a1a1a" stroke-width="0.12" text-anchor="middle" fill="#1a1a1a">P=0.79</text>
<text transform="translate(618.20,374.23) scale(0.87,1)" font-size="9.6" stroke="#1a1a1a" stroke-width="0.12" text-anchor="middle" fill="#1a1a1a">P=0.12</text>
<text transform="translate(618.20,402.49) scale(0.87,1)" font-size="9.6" stroke="#1a1a1a" stroke-width="0.12" text-anchor="middle" fill="#1a1a1a">P=0.47</text>
<text transform="translate(618.20,430.75) scale(0.87,1)" font-size="9.6" font-weight="bold" stroke="#1a1a1a" stroke-width="0.12" text-anchor="middle" fill="#1a1a1a">P=0.04</text>
<rect x="486.5" y="269.6" width="171.90" height="175.00" fill="none" stroke="#585858" stroke-width="1.1"/>
<line x1="482.10" y1="286.85" x2="486.5" y2="286.85" stroke="#333" stroke-width="1.1"/>
<text transform="translate(478.90,289.45) scale(0.95,1)" font-size="8.7" stroke="#3d3d3d" stroke-width="0.12" text-anchor="end" fill="#3d3d3d">PD</text>
<line x1="482.10" y1="315.11" x2="486.5" y2="315.11" stroke="#333" stroke-width="1.1"/>
<text transform="translate(478.90,317.71) scale(0.95,1)" font-size="8.7" stroke="#3d3d3d" stroke-width="0.12" text-anchor="end" fill="#3d3d3d">MS</text>
<line x1="482.10" y1="343.37" x2="486.5" y2="343.37" stroke="#333" stroke-width="1.1"/>
<text transform="translate(478.90,345.97) scale(0.95,1)" font-size="8.7" stroke="#3d3d3d" stroke-width="0.12" text-anchor="end" fill="#3d3d3d">LBD</text>
<line x1="482.10" y1="371.63" x2="486.5" y2="371.63" stroke="#333" stroke-width="1.1"/>
<text transform="translate(478.90,374.23) scale(0.95,1)" font-size="8.7" stroke="#3d3d3d" stroke-width="0.12" text-anchor="end" fill="#3d3d3d">FTD</text>
<line x1="482.10" y1="399.89" x2="486.5" y2="399.89" stroke="#333" stroke-width="1.1"/>
<text transform="translate(478.90,402.49) scale(0.95,1)" font-size="8.7" stroke="#3d3d3d" stroke-width="0.12" text-anchor="end" fill="#3d3d3d">ALS</text>
<line x1="482.10" y1="428.15" x2="486.5" y2="428.15" stroke="#333" stroke-width="1.1"/>
<text transform="translate(478.90,430.75) scale(0.95,1)" font-size="8.7" stroke="#3d3d3d" stroke-width="0.12" text-anchor="end" fill="#3d3d3d">AD</text>
<line x1="494.20" y1="444.6" x2="494.20" y2="449.00" stroke="#333" stroke-width="1.1"/>
<text transform="translate(494.20,456.50)" font-size="8.7" stroke="#3d3d3d" stroke-width="0.12" text-anchor="middle" fill="#3d3d3d">0</text>
<line x1="528.95" y1="444.6" x2="528.95" y2="449.00" stroke="#333" stroke-width="1.1"/>
<text transform="translate(528.95,456.50)" font-size="8.7" stroke="#3d3d3d" stroke-width="0.12" text-anchor="middle" fill="#3d3d3d">1</text>
<line x1="563.70" y1="444.6" x2="563.70" y2="449.00" stroke="#333" stroke-width="1.1"/>
<text transform="translate(563.70,456.50)" font-size="8.7" stroke="#3d3d3d" stroke-width="0.12" text-anchor="middle" fill="#3d3d3d">2</text>
<line x1="598.45" y1="444.6" x2="598.45" y2="449.00" stroke="#333" stroke-width="1.1"/>
<text transform="translate(598.45,456.50)" font-size="8.7" stroke="#3d3d3d" stroke-width="0.12" text-anchor="middle" fill="#3d3d3d">3</text>
<line x1="633.20" y1="444.6" x2="633.20" y2="449.00" stroke="#333" stroke-width="1.1"/>
<text transform="translate(633.20,456.50)" font-size="8.7" stroke="#3d3d3d" stroke-width="0.12" text-anchor="middle" fill="#3d3d3d">4</text>
<text transform="translate(574.90,466.50) scale(0.97,1)" font-size="8.7" font-weight="bold" text-anchor="middle" fill="#000">OR</text>
<text transform="translate(458.90,355.30) rotate(-90) scale(0.925,1)" font-size="10.0" stroke="#000" stroke-width="0.12" text-anchor="middle" fill="#000">Neurodegenerative disease</text>
<text transform="translate(448.20,263.00)" font-size="14.4" font-weight="bold" text-anchor="start" fill="#000">F</text>
<rect x="664.7" y="269.6" width="19.10" height="175.00" fill="#fff" stroke="#888" stroke-width="1"/>
<text transform="translate(671.90,357.60) rotate(90)" font-size="11.1" stroke="#1a1a1a" stroke-width="0.08" text-anchor="middle" fill="#1a1a1a">Weighted median</text>
<rect x="37.6" y="16.9" width="172.10" height="28.4" fill="#fff" stroke="#999" stroke-width="1"/>
<text transform="translate(123.65,29.00) scale(0.847,1)" font-size="11.8" font-weight="bold" text-anchor="middle" fill="#000">Hospitalization</text>
<text transform="translate(123.65,39.50)" font-size="9.22" stroke="#1a1a1a" stroke-width="0.1" text-anchor="middle" fill="#1a1a1a">Cases: 24,274, Controls: 2,061,529</text>
<rect x="262.2" y="16.9" width="171.90" height="28.4" fill="#fff" stroke="#999" stroke-width="1"/>
<text transform="translate(348.15,29.00) scale(0.847,1)" font-size="11.8" font-weight="bold" text-anchor="middle" fill="#000">Susceptibility</text>
<text transform="translate(348.15,39.50)" font-size="9.22" stroke="#1a1a1a" stroke-width="0.1" text-anchor="middle" fill="#1a1a1a">Cases: 112,612, Controls: 2,474,079</text>
<rect x="486.5" y="16.9" width="171.90" height="28.4" fill="#fff" stroke="#999" stroke-width="1"/>
<text transform="translate(572.45,29.00) scale(0.847,1)" font-size="11.8" font-weight="bold" text-anchor="middle" fill="#000">Severity</text>
<text transform="translate(572.45,39.50)" font-size="9.22" stroke="#1a1a1a" stroke-width="0.1" text-anchor="middle" fill="#1a1a1a">Cases: 8,779, Controls: 1,001,875</text>
</svg>
</body></html>
